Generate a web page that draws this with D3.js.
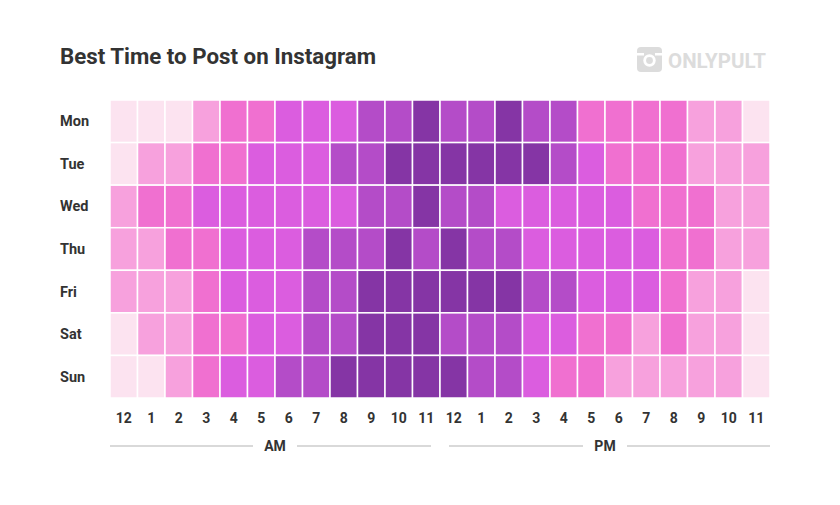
<!DOCTYPE html>
<html><head><meta charset="utf-8">
<script src="https://cdn.jsdelivr.net/npm/d3@7"></script>
<style>body{margin:0;background:#fff;font-family:Roboto,sans-serif}</style>
</head><body>
<svg id="c" width="840" height="505"></svg>
<script>
const days = ["Mon","Tue","Wed","Thu","Fri","Sat","Sun"];
const hours = ["12","1","2","3","4","5","6","7","8","9","10","11","12","1","2","3","4","5","6","7","8","9","10","11"];
const mon = [0,0,0,1,2,2,3,3,3,4,4,5, 4,4,5,4,4,2,2,2,2,1,1,0];
const tue = [0,1,1,2,2,3,3,3,4,4,5,5, 5,5,5,5,4,3,2,2,2,1,1,1];
const wed = [1,2,2,3,3,3,3,3,3,4,4,5, 4,4,3,3,3,3,3,2,2,2,1,1];
const thu = [1,1,2,2,3,3,3,4,4,4,5,4, 5,4,4,3,3,3,3,3,2,2,1,1];
const fri = [1,1,1,2,3,3,3,4,4,5,5,5, 5,5,5,4,4,3,3,3,2,1,1,0];
const sat = [0,1,1,2,2,3,3,4,4,5,5,5, 4,4,4,3,3,2,2,1,2,1,1,0];
const sun = [0,0,1,2,3,3,4,4,5,5,5,5, 5,4,4,3,2,2,1,1,1,1,1,0];
const levels = [mon,tue,wed,thu,fri,sat,sun];
const palette = ["#fce3f0","#f7a1dd","#f070d0","#db5ddf","#b44cc8","#8535a5"];

const svg = d3.select("#c");
const x = d3.scaleBand().domain(d3.range(24)).range([110,770]);
const y = d3.scaleBand().domain(days).range([100,398]);
const color = d3.scaleOrdinal().domain(d3.range(6)).range(palette);

svg.append("text").attr("x",60).attr("y",64).attr("font-size",22.3).attr("font-weight",700)
  .attr("fill","#333").text("Best Time to Post on Instagram");

// logo
const lg = svg.append("g").attr("fill","#dcdcdc");
lg.append("rect").attr("x",637).attr("y",47).attr("width",25).attr("height",25).attr("rx",4);
lg.append("circle").attr("cx",649.5).attr("cy",60.5).attr("r",6.2).attr("fill","#fff");
lg.append("circle").attr("cx",649.5).attr("cy",60.5).attr("r",3.4);
lg.append("rect").attr("x",637).attr("y",53).attr("width",7).attr("height",2.5).attr("fill","#fff");
lg.append("rect").attr("x",655).attr("y",53).attr("width",7).attr("height",2.5).attr("fill","#fff");
svg.append("text").attr("x",668).attr("y",68).attr("font-size",20.5).attr("font-weight",700)
  .attr("fill","#dcdcdc").text("ONLYPULT");

const cells = [];
levels.forEach((row,i)=>row.forEach((v,j)=>cells.push({d:days[i],h:j,v})));
svg.append("g").selectAll("rect").data(cells).join("rect")
  .attr("x",d=>x(d.h)).attr("y",d=>y(d.d))
  .attr("width",x.bandwidth()).attr("height",y.bandwidth())
  .attr("fill",d=>color(d.v)).attr("stroke","#fff").attr("stroke-width",1.5);

svg.append("g").selectAll("text").data(days).join("text")
  .attr("x",60).attr("y",d=>y(d)+y.bandwidth()/2+5).attr("font-size",14.5).attr("font-weight",700)
  .attr("fill","#333").text(d=>d);

svg.append("g").selectAll("text").data(hours.map((h,i)=>({h,i}))).join("text")
  .attr("x",d=>x(d.i)+x.bandwidth()/2).attr("y",423).attr("text-anchor","middle")
  .attr("font-size",14).attr("font-weight",700).attr("fill","#333").text(d=>d.h);

const per = [{t:"AM",a:0,b:11},{t:"PM",a:12,b:23}];
per.forEach(p=>{
  const x0 = x(p.a), x1 = x(p.b)+x.bandwidth(), m=(x0+x1)/2;
  const x0b = p.a===0?x0:x0+9, x1b = p.b===11?x1-9:x1;
  svg.append("line").attr("x1",x0b).attr("x2",m-22).attr("y1",446).attr("y2",446).attr("stroke","#ccc").attr("stroke-width",1.5);
  svg.append("line").attr("x1",m+22).attr("x2",x1b).attr("y1",446).attr("y2",446).attr("stroke","#ccc").attr("stroke-width",1.5);
  svg.append("text").attr("x",m).attr("y",451).attr("text-anchor","middle").attr("font-size",14)
    .attr("font-weight",700).attr("fill","#333").text(p.t);
});
</script>
</body></html>
